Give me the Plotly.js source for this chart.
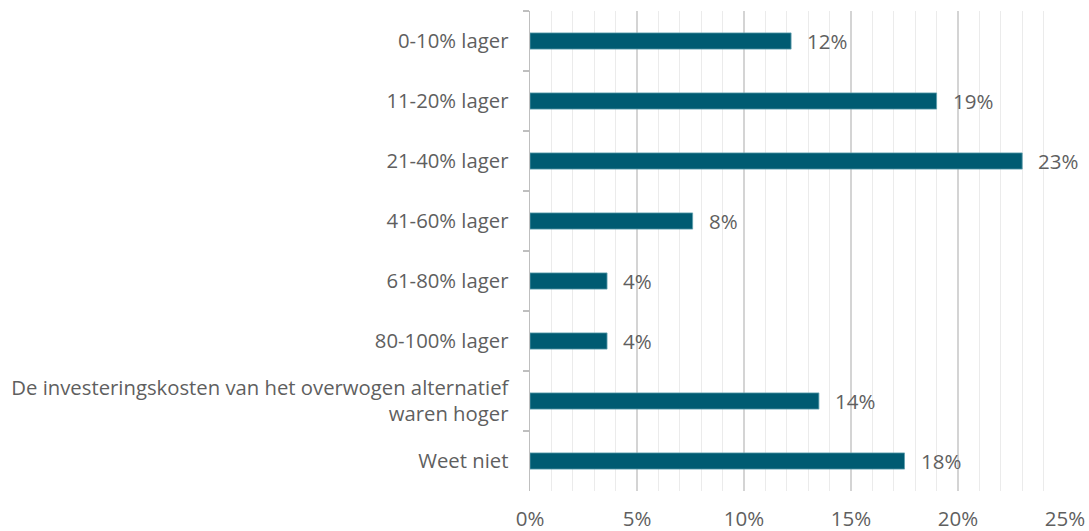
<!DOCTYPE html>
<html>
<head>
<meta charset="utf-8">
<script src="https://cdn.plot.ly/plotly-3.0.1.min.js"></script>
<style>html,body{margin:0;padding:0;background:#fff;}#chart{width:1089px;height:531px;}</style>
</head>
<body>
<div id="chart"></div>
<script>
const categories = [
  "0-10% lager",
  "11-20% lager",
  "21-40% lager",
  "41-60% lager",
  "61-80% lager",
  "80-100% lager",
  "De investeringskosten van het overwogen alternatief<br>waren hoger",
  "Weet niet"
];
const values = [12.2, 19.0, 23.0, 7.6, 3.6, 3.6, 13.5, 17.5];
const labels = ["12%", "19%", "23%", "8%", "4%", "4%", "14%", "18%"];
const xTickVals = [0, 5, 10, 15, 20, 25];
const xTickText = ["0%", "5%", "10%", "15%", "20%", "25%"];

const fontFam = "'Open Sans', 'Noto Sans', sans-serif";
const textColor = "#5f5f5f";

const trace = {
  type: "bar",
  orientation: "h",
  x: values,
  y: categories,
  width: 0.27,
  marker: {color: "#005B72", line: {color: "#5f9fae", width: 0.8}},
  hoverinfo: "none"
};

const annotations = values.map((v, i) => ({
  x: v, y: categories[i], xref: "x", yref: "y",
  text: labels[i], showarrow: false, xanchor: "left", xshift: 14,
  font: {family: fontFam, size: 20.5, color: textColor}
}));

const layout = {
  width: 1089, height: 531,
  margin: {l: 530, r: 24, t: 11, b: 40, pad: 0},
  paper_bgcolor: "#fff", plot_bgcolor: "#fff",
  showlegend: false,
  bargap: 0.73,
  xaxis: {
    range: [0, 25],
    tickvals: xTickVals, ticktext: xTickText,
    showgrid: true, gridcolor: "#d4d4d4", gridwidth: 1.5,
    minor: {dtick: 1, showgrid: true, gridcolor: "#ebebeb", gridwidth: 1},
    zeroline: false, showline: false, ticks: "",
    ticklabelstandoff: 13,
    tickfont: {family: fontFam, size: 20.5, color: textColor},
    fixedrange: true
  },
  yaxis: {
    autorange: "reversed",
    type: "category",
    showline: true, linecolor: "#bfbfbf", linewidth: 1.5,
    ticks: "outside", tickson: "boundaries", ticklen: 6, tickcolor: "#bfbfbf", tickwidth: 1.5,
    showgrid: false, zeroline: false,
    ticklabelstandoff: 16,
    tickfont: {family: fontFam, size: 20.3, color: textColor},
    fixedrange: true
  },
  annotations: annotations
};

Plotly.newPlot("chart", [trace], layout, {displayModeBar: false, staticPlot: true});
</script>
</body>
</html>
